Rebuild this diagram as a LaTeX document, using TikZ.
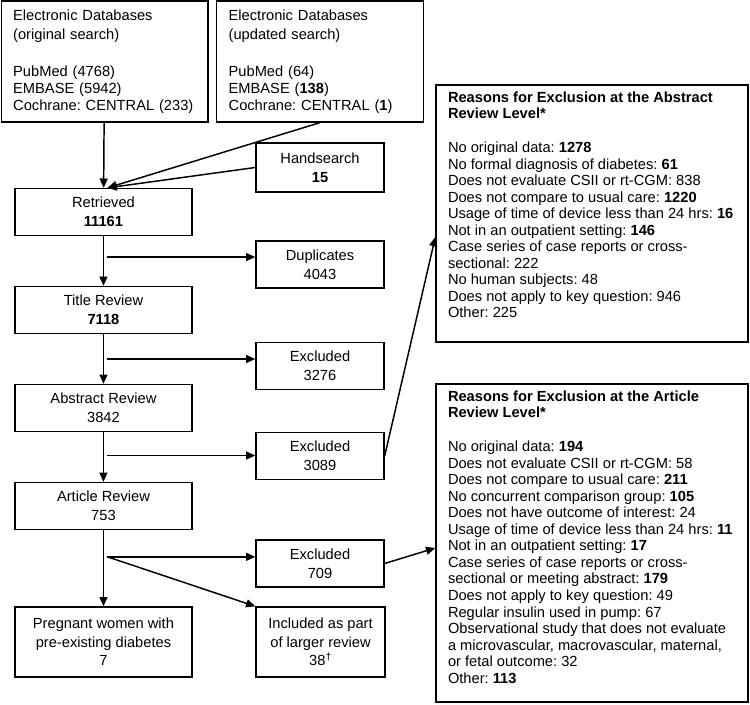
\documentclass[tikz,border=0pt]{standalone}
\usepackage{fontspec}
\setmainfont{Liberation Sans}
\usetikzlibrary{positioning,calc,arrows.meta}
\frenchspacing

\tikzstyle{n} = [rectangle, draw=black, line width=1pt, minimum width=132.75pt, minimum height=35.25pt, text centered, align=center, inner sep=2pt, font=\fontsize{11}{14}\selectfont]
\tikzstyle{side} = [n, minimum width=96pt]
\tikzstyle{db} = [rectangle, draw=black, line width=1pt, minimum height=90.75pt, text width=137pt, inner xsep=9pt, align=left, font=\fontsize{11}{12.75}\selectfont]
\tikzstyle{reasons} = [rectangle, draw=black, line width=1pt, inner xsep=9pt, inner ysep=5pt, font=\fontsize{11}{12.4}\selectfont]
\tikzstyle{arr} = [line width=1.1pt, -{Triangle[length=7pt,width=6pt]}]

\begin{document}
\begin{tikzpicture}[node distance=73.5pt]
        \useasboundingbox (0,0) rectangle (562.5pt,-528pt);
        % searches
        \node (orig) [db] at (78.4pt,-46.1pt) {Electronic Databases\\[1.5pt](original search)\\[15pt]PubMed (4768)\\EMBASE (5942)\\Cochrane: CENTRAL (233)};
        \node (upd) [db, right of=orig, xshift=88.1pt] {Electronic Databases\\[1.5pt](updated search)\\[15pt]PubMed (64)\\EMBASE (\textbf{138})\\Cochrane: CENTRAL (\textbf{1})};
        % main column
        \node (retr) [n] at (77.6pt,-159pt) {Retrieved\\\textbf{11161}};
        \node (title) [n, below of=retr] {Title Review\\\textbf{7118}};
        \node (abs) [n, below of=title] {Abstract Review\\3842};
        \node (art) [n, below of=abs] {Article Review\\753};
        \node (preg) [n, below of=art, yshift=-28.5pt, minimum height=52.5pt] {Pregnant women with\\pre-existing diabetes\\7};
        % side column
        \node (hand) [side, right of=retr, xshift=88.9pt, yshift=33.4pt, minimum height=36.75pt] {Handsearch\\\textbf{15}};
        \node (dup) [side, right of=retr, xshift=88.9pt, yshift=-39.4pt] {Duplicates\\4043};
        \node (exc1) [side, right of=title, xshift=88.9pt, yshift=-42pt] {Excluded\\3276};
        \node (exc2) [side, right of=abs, xshift=88.9pt, yshift=-36pt] {Excluded\\3089};
        \node (exc3) [side, right of=art, xshift=88.9pt, yshift=-43.1pt] {Excluded\\709};
        \node (incl) [side, right of=preg, xshift=89.3pt, minimum width=96.75pt, minimum height=52.5pt] {Included as part\\of larger review\\38\textsuperscript{†}};
        % reasons
        \node (absr) [reasons] at (444pt,-160.1pt) {\parbox[t][182.75pt][t]{216pt}{\raggedright
            \textbf{Reasons for Exclusion at the Abstract\\Review Level*}\\[13pt]
            No original data: \textbf{1278}\\
            No formal diagnosis of diabetes: \textbf{61}\\
            Does not evaluate CSII or rt-CGM: 838\\
            Does not compare to usual care: \textbf{1220}\\
            Usage of time of device less than 24 hrs: \textbf{16}\\
            Not in an outpatient setting: \textbf{146}\\
            Case series of case reports or cross-\\
            sectional: 222\\
            No human subjects: 48\\
            Does not apply to key question: 946\\
            Other: 225}};
        \node (artr) [reasons] at (444pt,-407.25pt) {\parbox[t][228.5pt][t]{216pt}{\raggedright
            \textbf{Reasons for Exclusion at the Article\\Review Level*}\\[13pt]
            No original data: \textbf{194}\\
            Does not evaluate CSII or rt-CGM: 58\\
            Does not compare to usual care: \textbf{211}\\
            No concurrent comparison group: \textbf{105}\\
            Does not have outcome of interest: 24\\
            Usage of time of device less than 24 hrs: \textbf{11}\\
            Not in an outpatient setting: \textbf{17}\\
            Case series of case reports or cross-\\
            sectional or meeting abstract: \textbf{179}\\
            Does not apply to key question: 49\\
            Regular insulin used in pump: 67\\
            Observational study that does not evaluate\\
            a microvascular, macrovascular, maternal,\\
            or fetal outcome: 32\\
            Other: \textbf{113}}};

        % branch points
        \coordinate (b1) at ($(retr.south)!.42!(title.north)+(3pt,0)$);
        \coordinate (b2) at ($(title.south)!.5!(abs.north)+(3pt,0)$);
        \coordinate (b3) at ($(abs.south)!.47!(art.north)+(3pt,0)$);
        \coordinate (b4) at ($(art.south)!.35!(preg.north)+(3pt,0)$);

        \draw [arr] (orig) -- (retr);
        \draw [arr] (upd.south) -- ([xshift=3pt]retr.north);
        \draw [arr] (hand.west) -- ([xshift=3pt]retr.north);
        \draw [arr] (retr) -- (title);
        \draw [arr] (title) -- (abs);
        \draw [arr] (abs) -- (art);
        \draw [arr] (art) -- (preg);
        \draw [arr] (b1) -- (b1 -| dup.west);
        \draw [arr] (b2) -- (b2 -| exc1.west);
        \draw [arr] (b3) -- (b3 -| exc2.west);
        \draw [arr] (b4) -- (b4 -| exc3.west);
        \draw [arr] (b4) -- (incl.north west);
        \draw [arr] (exc2.east) -- ([yshift=-17.6pt]absr.west);
        \draw [arr] (exc3.east) -- ([yshift=-3.75pt]artr.west);
    \end{tikzpicture}
\end{document}
